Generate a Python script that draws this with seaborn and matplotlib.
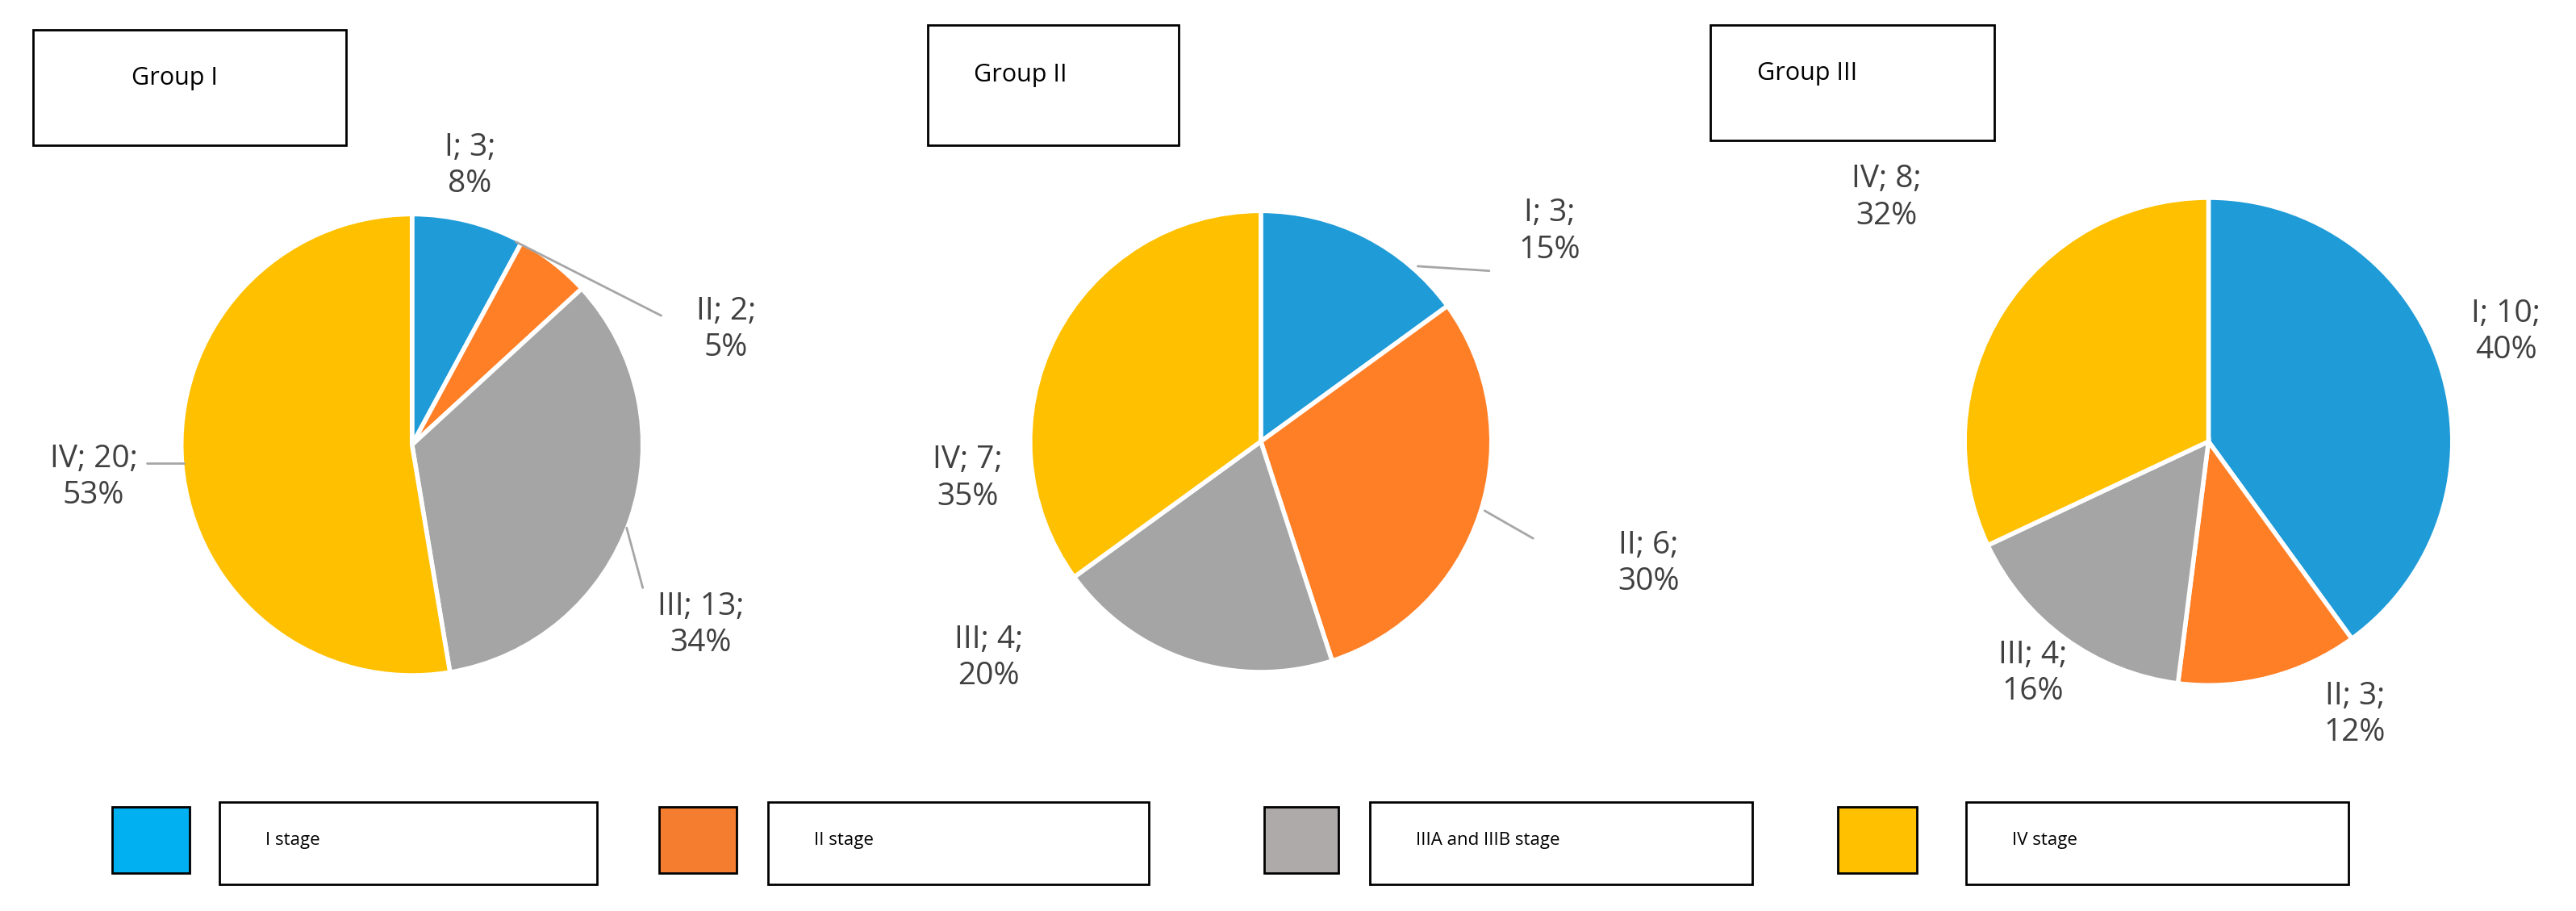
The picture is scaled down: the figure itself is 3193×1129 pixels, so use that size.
import matplotlib
matplotlib.use("Agg")
import matplotlib.pyplot as plt
import seaborn as sns
from matplotlib.patches import Rectangle

sns.set_theme(style="white")
plt.rcParams['font.family'] = ['Open Sans', 'DejaVu Sans']

stages = ["I", "II", "III", "IV"]
group1 = [3, 2, 13, 20]
group2 = [3, 6, 4, 7]
group3 = [10, 3, 4, 8]
pct1 = ["8%", "5%", "34%", "53%"]
pct2 = ["15%", "30%", "20%", "35%"]
pct3 = ["40%", "12%", "16%", "32%"]
titles = ["Group I", "Group II", "Group III"]
legend_labels = ["I stage", "II stage", "IIIA and IIIB stage", "IV stage"]

pie_colors = ["#1F9BD7", "#FF7F27", "#A5A5A5", "#FFC000"]
leg_colors = ["#00B0F0", "#F47D30", "#AEAAAA", "#FFC000"]

W, H = 1563, 553
fig = plt.figure(figsize=(31.93, 11.29), dpi=100)
fig.patch.set_facecolor("white")

pies = [
    (250, 270, 140, group1, pct1,
     [(0.25, 1.21), (1.36, 0.5), (1.25, -0.78), (-1.38, -0.14)],
     [None, ((0.45, 0.88), (1.08, 0.56)), ((0.93, -0.36), (1.0, -0.62)), ((-0.99, -0.08), (-1.15, -0.08))]),
    (765, 268, 140, group2, pct2,
     [(1.25, 0.91), (1.68, -0.53), (-1.18, -0.94), (-1.27, -0.16)],
     [((0.68, 0.76), (0.99, 0.74)), ((0.97, -0.3), (1.18, -0.42)), None, None]),
    (1340, 268, 148, group3, pct3,
     [(1.22, 0.45), (0.6, -1.12), (-0.72, -0.95), (-1.32, 1.0)],
     [None, None, None, None]),
]

for cx, cy, r, vals, pcts, lpos, lines in pies:
    ax = fig.add_axes([(cx - r) / W, 1 - (cy + r) / H, 2 * r / W, 2 * r / H])
    ax.pie(vals, colors=pie_colors, startangle=90, counterclock=False, radius=1,
           wedgeprops=dict(edgecolor="white", linewidth=4))
    ax.set_xlim(-1, 1); ax.set_ylim(-1, 1); ax.set_aspect("auto")
    ax.axis("off")
    for s, v, p, (lx, ly), ln in zip(stages, vals, pcts, lpos, lines):
        ax.text(lx, ly, f"{s}; {v};\n{p}", ha="center", va="center", fontsize=28,
                color="#404040", clip_on=False, linespacing=1.25)
        if ln:
            ax.plot([ln[0][0], ln[1][0]], [ln[0][1], ln[1][1]], color="#A6A6A6",
                    lw=2, clip_on=False)

ov = fig.add_axes([0, 0, 1, 1], zorder=-1)
ov.set_xlim(0, W); ov.set_ylim(H, 0); ov.axis("off")

boxes = [(20, 18, 190, 70), (563, 15, 152, 73), (1038, 15, 172, 70)]
for (x, y, w, h), t in zip(boxes, titles):
    ov.add_patch(Rectangle((x, y), w, h, fill=False, edgecolor="black", lw=2))
    ov.text(x + 60 if t == "Group I" else x + 28, y + h * 0.42, t, fontsize=22,
            va="center", ha="left", color="black")

sq = [(68, 115), (400, 447), (767, 812), (1115, 1163)]
tb = [(133, 362), (466, 697), (831, 1063), (1193, 1425)]
for (a, b), (c, d), col, lab in zip(sq, tb, leg_colors, legend_labels):
    ov.add_patch(Rectangle((a, 490), b - a, 40, facecolor=col, edgecolor="black", lw=2))
    ov.add_patch(Rectangle((c, 487), d - c, 50, fill=False, edgecolor="black", lw=2))
    ov.text(c + 28, 510, lab, fontsize=16, va="center", ha="left", color="black")

fig.savefig("out.png", dpi=100, facecolor="white")
